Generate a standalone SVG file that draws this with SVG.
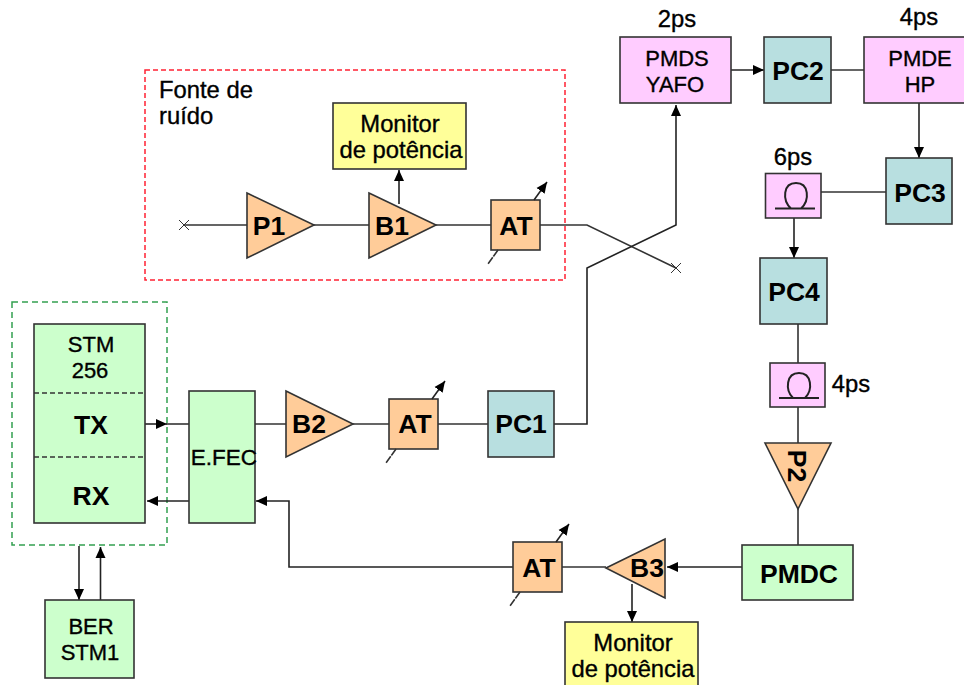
<svg xmlns="http://www.w3.org/2000/svg" width="964" height="685" viewBox="0 0 964 685">
<style>
text{font-family:"Liberation Sans",Arial,sans-serif;fill:#000;text-anchor:middle}
.n{font-size:22px;stroke:#000;stroke-width:.35}
.m{font-size:23.800px;stroke:#000;stroke-width:.35}
.b{font-size:26.500px;font-weight:bold}
.p{stroke:#333;stroke-width:1.600}
.pink{fill:#FFCCFF}.teal{fill:#B8DFE0}.org{fill:#FFCC99}.grn{fill:#CCFFCC}.yel{fill:#FFFF99}
.l{fill:none;stroke:#333;stroke-width:1.600}
.a{fill:none;stroke:#222;stroke-width:1.600;marker-end:url(#ah)}
</style>
<defs><marker id="ah" markerUnits="userSpaceOnUse" markerWidth="12" markerHeight="12" refX="11" refY="6" orient="auto"><path d="M0,1L11,6L0,11Z" fill="#000"/></marker></defs>
<rect id="fonte-box" x="145" y="70" width="420" height="210" fill="none" stroke="#FF2233" stroke-width="1.500" stroke-dasharray="5 3"/>
<rect id="stm-box" x="12" y="302" width="155" height="243" fill="none" stroke="#33A050" stroke-width="1.500" stroke-dasharray="6 4"/>
<g id="connectors">
<path class="l" d="M184,225H247M314,225H369M436,225H491M540,225H587L676,268"/>
<path class="a" d="M554,424H587V268L676,225V105"/>
<path class="a" d="M731,70H764"/>
<path class="l" d="M831,70H864"/>
<path class="a" d="M919,103V158"/>
<path class="l" d="M821,192H886"/>
<path class="a" d="M794,218V258"/>
<path class="l" d="M798,324V363M798,407V443M798,509V545"/>
<path class="a" d="M742,567H667"/>
<path class="l" d="M562,567H606"/>
<path class="a" d="M513,567H289V501H256"/>
<path class="a" d="M632,584V622"/>
<path class="a" d="M399,204V170"/>
<path class="l" d="M255,424H286M353,424H389M438,424H488"/>
<path class="a" d="M145,424H167"/>
<path class="l" d="M165,424H189"/>
<path class="a" d="M189,501H147"/>
<path class="a" d="M79,546V600"/>
<path class="a" d="M100.500,600V547"/>
<path d="M179,220L189,230M189,220L179,230M671,263L681,273M681,263L671,273" fill="none" stroke="#333" stroke-width="1"/>
</g>
<g id="P1"><path class="org p" d="M247,193L314,225L247,258Z"/><text class="b" x="269" y="235">P1</text></g>
<g id="B1"><path class="org p" d="M369,193L436,225L369,258Z"/><text class="b" x="392" y="235">B1</text></g>
<g id="monitor1"><rect class="yel p" x="333" y="103" width="133" height="66"/><text class="m" x="400" y="132">Monitor</text><text class="m" x="401" y="158">de potência</text></g>
<g id="AT1"><rect class="org p" x="491" y="200" width="49" height="50"/><text class="b" x="516" y="235">AT</text><path class="a" d="M534,200L547,182"/><path class="l" stroke-dasharray="8 1" d="M498,250L488,264"/></g>
<g id="fonte-label"><text class="m" x="159" y="98" style="text-anchor:start">Fonte de</text><text class="m" x="159" y="124" style="text-anchor:start">ruído</text></g>
<g id="PMDS"><rect class="pink p" x="620" y="37" width="111" height="66"/><text class="n" x="677" y="66">PMDS</text><text class="n" x="675" y="92">YAFO</text><text class="m" x="677" y="27">2ps</text></g>
<g id="PC2"><rect class="teal p" x="764" y="37" width="67" height="66"/><text class="b" x="798" y="80">PC2</text></g>
<g id="PMDE"><rect class="pink p" x="864" y="37" width="102" height="66"/><text class="n" x="920" y="66">PMDE</text><text class="n" x="920" y="92">HP</text><text class="m" x="919" y="25">4ps</text></g>
<g id="PC3"><rect class="teal p" x="886" y="158" width="66" height="66"/><text class="b" x="920" y="202">PC3</text></g>
<g id="fibra6"><rect class="pink p" x="765.500" y="173.500" width="55.500" height="44.500"/><path fill="none" stroke="#222" stroke-width="2" d="M775,208.500H815M791,208.500C782,200 783,183 796,183C809,183 810,200 801,208.500"/><text class="m" x="793" y="165">6ps</text></g>
<g id="PC4"><rect class="teal p" x="760" y="258" width="67" height="66"/><text class="b" x="794" y="301">PC4</text></g>
<g id="fibra4"><rect class="pink p" x="770" y="363" width="55" height="44"/><path fill="none" stroke="#222" stroke-width="2" d="M779,398H819M793,398C785,390 786,373 799,373C812,373 813,390 805,398"/><text class="m" x="851" y="392">4ps</text></g>
<g id="P2"><path class="org p" d="M765,443H831L798,509Z"/><text class="b" transform="translate(788,466) rotate(90)" x="0" y="0">P2</text></g>
<g id="PMDC"><rect class="grn p" x="742" y="545" width="111" height="55"/><text class="b" x="799" y="583">PMDC</text></g>
<g id="B3"><path class="org p" d="M606,568L665,539V598Z"/><text class="b" x="647" y="577">B3</text></g>
<g id="AT3"><rect class="org p" x="513" y="542" width="49" height="50"/><text class="b" x="539" y="577">AT</text><path class="a" d="M556,542L569,524"/><path class="l" stroke-dasharray="8 1" d="M520,592L510,606"/></g>
<g id="monitor2"><rect class="yel p" x="565" y="622" width="133" height="66"/><text class="m" x="633" y="651">Monitor</text><text class="m" x="633" y="677">de potência</text></g>
<g id="PC1"><rect class="teal p" x="488" y="391" width="66" height="66"/><text class="b" x="521" y="433">PC1</text></g>
<g id="AT2"><rect class="org p" x="389" y="399" width="49" height="50"/><text class="b" x="415" y="433">AT</text><path class="a" d="M432,399L445,381"/><path class="l" stroke-dasharray="8 1" d="M396,449L386,463"/></g>
<g id="B2"><path class="org p" d="M286,391L353,424L286,457Z"/><text class="b" x="309" y="433">B2</text></g>
<g id="EFEC"><rect class="grn p" x="189" y="391" width="66" height="132"/><text class="n" x="224" y="465" style="font-size:22.500px">E.FEC</text></g>
<g id="STM"><rect class="grn p" x="34" y="324" width="111" height="199"/><path fill="none" stroke="#333" stroke-width="1.300" stroke-dasharray="5 3" d="M34,393H145M34,457H145"/><text class="n" x="91" y="352">STM</text><text class="n" x="90" y="378">256</text><text class="b" x="91" y="434">TX</text><text class="b" x="91" y="505">RX</text></g>
<g id="BER"><rect class="grn p" x="45" y="600" width="89" height="78"/><text class="n" x="91" y="634">BER</text><text class="n" x="90" y="660">STM1</text></g>
</svg>
